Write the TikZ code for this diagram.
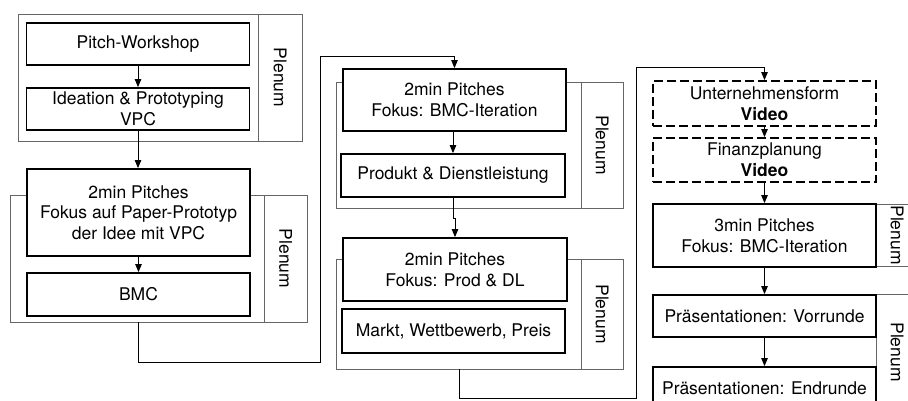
\documentclass[tikz,border=0pt]{standalone}
\usepackage{fontspec}
\setmainfont{TeX Gyre Heros}
\usetikzlibrary{arrows.meta,calc}
\begin{document}
\begin{tikzpicture}[x=1pt,y=-1pt,
  every node/.style={font=\fontsize{17.5}{20.7}\selectfont, align=center, inner sep=0pt},
  stepbox/.style={draw=black, line width=1.8pt, fill=white, minimum width=223pt},
  videobox/.style={stepbox, dash pattern=on 9pt off 4pt},
  grp/.style={draw=black!60, line width=0.9pt},
  plen/.style={grp, rotate=-90},
  arr/.style={draw=black, line width=0.9pt, -{Triangle[length=8pt,width=6.5pt]}}]
\useasboundingbox (0,0) rectangle (908,401);
\clip (0,0) rectangle (908,401);
% groups
\node[grp, minimum width=240pt, minimum height=127pt] (g1) at (138,77.5) {};
\node[plen, minimum width=127pt, minimum height=44pt] (g1p) at (280,77.5) {Plenum};
\node[grp, minimum width=254pt, minimum height=127pt] (g2) at (137,258.5) {};
\node[plen, minimum width=127pt, minimum height=43pt] (g2p) at (285.5,258.5) {Plenum};
\node[grp, minimum width=245pt, minimum height=126pt] (g3) at (458.5,145) {};
\node[plen, minimum width=126pt, minimum height=42pt] (g3p) at (602,145) {Plenum};
\node[grp, minimum width=245pt, minimum height=110pt] (g4) at (458.5,314) {};
\node[plen, minimum width=110pt, minimum height=42pt] (g4p) at (602,314) {Plenum};
\node[plen, minimum width=62pt, minimum height=42pt] (g5p) at (897,235) {Plenum};
\node[plen, minimum width=116pt, minimum height=42pt] (g6p) at (897,352) {Plenum};
% steps
\node[stepbox, minimum height=42pt] (pw) at (138,44) {Pitch-Workshop};
\node[stepbox, minimum height=42pt] (ide) at (138,109) {Ideation \& Prototyping\\VPC};
\node[stepbox, minimum height=87pt] (p2a) at (138.5,212.5) {2min Pitches\\Fokus auf Paper-Prototyp\\der Idee mit VPC};
\node[stepbox, minimum height=43pt] (bmc) at (138.5,294.5) {BMC};
\node[stepbox, minimum height=62pt] (p2b) at (454.5,100) {2min Pitches\\Fokus: BMC-Iteration};
\node[stepbox, minimum width=224pt, minimum height=43pt] (prod) at (453,175.5) {Produkt \& Dienstleistung};
\node[stepbox, minimum width=224pt, minimum height=63pt] (p2c) at (455,269.5) {2min Pitches\\Fokus: Prod \& DL};
\node[stepbox, minimum height=44pt] (markt) at (453.5,331) {Markt, Wettbewerb, Preis};
\node[videobox, minimum height=45pt] (unt) at (764.5,103.5) {Unternehmensform\\\textbf{Video}};
\node[videobox, minimum height=44pt] (fin) at (764.5,160) {Finanzplanung\\\textbf{Video}};
\node[stepbox, minimum height=63pt] (p3) at (764.5,235.5) {3min Pitches\\Fokus: BMC-Iteration};
\node[stepbox, minimum height=42pt] (vor) at (764.5,316) {Präsentationen: Vorrunde};
\node[stepbox, minimum height=43pt] (endr) at (764.5,388.5) {Präsentationen: Endrunde};
% arrows
\draw[arr] (pw) -- (ide);
\draw[arr] (ide.south) -- (ide.south |- p2a.north);
\draw[arr] (p2a.south) -- (p2a.south |- bmc.north);
\draw[arr] (p2b.south -| prod.north) -- (prod.north);
\draw[arr] (prod.south) -- ++(0,21) -| (p2c.north);
\draw[arr] (unt) -- (fin);
\draw[arr] (fin) -- (p3);
\draw[arr] (p3) -- (vor);
\draw[arr] (vor) -- (endr);
% long connectors
\coordinate (k1) at (320,56);
\draw[arr] (bmc.south |- g2.south) -- ++(0,40) -| (k1) -| (p2b.north);
\coordinate (k2) at (459,398);
\coordinate (k3) at (636,67);
\draw[arr] (k2 |- g4.south) -- (k2) -| (k3) -| (unt.north);
\end{tikzpicture}
\end{document}
